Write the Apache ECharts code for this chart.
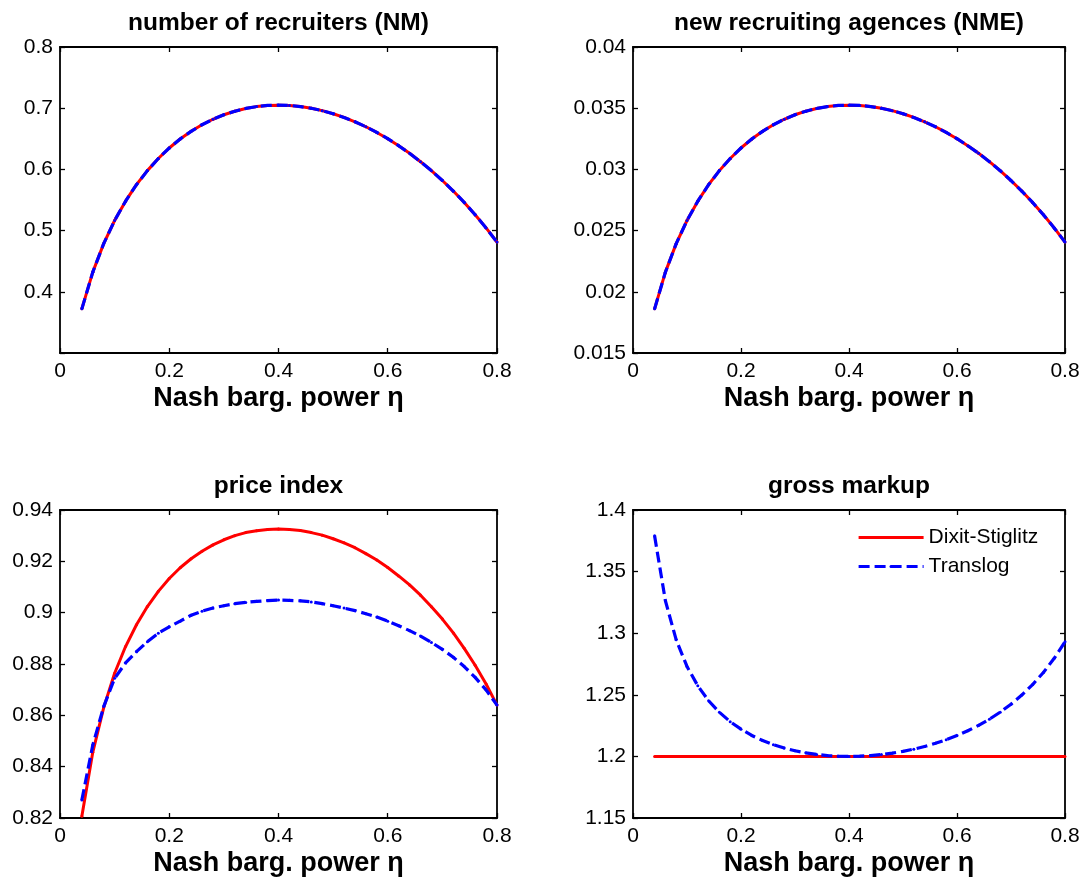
<!DOCTYPE html>
<html>
<head>
<meta charset="utf-8">
<script src="https://cdn.jsdelivr.net/npm/echarts@6/dist/echarts.min.js"></script>
<style>
html,body{margin:0;padding:0;background:#fff;}
#chart{width:1090px;height:882px;}
</style>
</head>
<body>
<div id="chart"></div>
<script>
// Nash bargaining power eta (x values)
const eta = [0.04,0.06,0.08,0.10,0.12,0.14,0.16,0.18,0.20,0.22,0.24,0.26,0.28,0.30,0.32,0.34,0.36,0.38,0.40,
             0.42,0.44,0.46,0.48,0.50,0.52,0.54,0.56,0.58,0.60,0.62,0.64,0.66,0.68,0.70,0.72,0.74,0.76,0.78,0.80];

// number of recruiters (NM) – both models coincide
const nmDS = [0.3721,0.4321,0.4787,0.5165,0.5481,0.5750,0.5980,0.6178,0.6350,0.6497,0.6622,0.6730,0.6819,0.6893,0.6951,0.6996,0.7026,0.7045,0.7050,
              0.7045,0.7027,0.6999,0.6960,0.6910,0.6849,0.6778,0.6697,0.6604,0.6502,0.6387,0.6263,0.6126,0.5979,0.5818,0.5646,0.5460,0.5259,0.5044,0.4812];
const nmTL = nmDS.slice();

// new recruiting agences (NME)
const nmeDS = [0.018605,0.021605,0.023935,0.025825,0.027405,0.02875,0.0299,0.03089,0.03175,0.032485,0.03311,0.03365,0.034095,0.034465,0.034755,0.03498,0.03513,0.035225,0.03525,
               0.035225,0.035135,0.034995,0.0348,0.03455,0.034245,0.03389,0.033485,0.03302,0.03251,0.031935,0.031315,0.03063,0.029895,0.02909,0.02823,0.0273,0.026295,0.02522,0.02406];
const nmeTL = nmeDS.slice();

// price index
const piDS = [0.8207,0.8456,0.8630,0.8764,0.8868,0.8953,0.9024,0.9083,0.9133,0.9175,0.9210,0.9239,0.9264,0.9284,0.9300,0.9312,0.9319,0.9324,0.9326,
              0.9324,0.9320,0.9312,0.9302,0.9288,0.9272,0.9253,0.9230,0.9205,0.9176,0.9143,0.9108,0.9068,0.9023,0.8975,0.8921,0.8861,0.8795,0.8722,0.8640];
const piTL = [0.8270,0.8484,0.8634,0.8744,0.8804,0.8848,0.8887,0.8920,0.8945,0.8967,0.8990,0.9006,0.9018,0.9027,0.9035,0.9040,0.9044,0.9047,0.9049,
              0.9048,0.9046,0.9042,0.9035,0.9027,0.9018,0.9008,0.8996,0.8983,0.8967,0.8949,0.8930,0.8909,0.8884,0.8857,0.8826,0.8790,0.8748,0.8699,0.8640];

// gross markup
const muDS = [1.2,1.2,1.2,1.2,1.2,1.2,1.2,1.2,1.2,1.2,1.2,1.2,1.2,1.2,1.2,1.2,1.2,1.2,1.2,
              1.2,1.2,1.2,1.2,1.2,1.2,1.2,1.2,1.2,1.2,1.2,1.2,1.2,1.2,1.2,1.2,1.2,1.2,1.2,1.2];
const muTL = [1.3790,1.3263,1.2946,1.2730,1.2573,1.2452,1.2358,1.2282,1.2221,1.2170,1.2129,1.2095,1.2068,1.2046,1.2029,1.2016,1.2007,1.2002,1.2000,
              1.2002,1.2007,1.2015,1.2026,1.2041,1.2059,1.2080,1.2106,1.2135,1.2169,1.2208,1.2252,1.2302,1.2359,1.2424,1.2498,1.2583,1.2681,1.2796,1.2930];

const titles = ['number of recruiters (NM)','new recruiting agences (NME)','price index','gross markup'];
const xLabel = 'Nash barg. power \u03b7';
const seriesNames = ['Dixit-Stiglitz','Translog'];
const xTicks = {min:0, max:0.8, interval:0.2};
const yTicks = [
  {min:0.3, max:0.8, interval:0.1, hideBelow:0.35},
  {min:0.015, max:0.04, interval:0.005},
  {min:0.82, max:0.94, interval:0.02},
  {min:1.15, max:1.4, interval:0.05}
];
const panels = [[nmDS,nmTL],[nmeDS,nmeTL],[piDS,piTL],[muDS,muTL]];

const FONT = '"Liberation Sans", Arial, Helvetica, sans-serif';
const grids = [
  {left:60, top:47, width:437, height:306},
  {left:633, top:47, width:432, height:306},
  {left:60, top:510, width:437, height:308},
  {left:633, top:510, width:432, height:308}
];
const lineSt = {color:'#000', width:1.8};
const xAxes = [], yAxes = [], series = [];
grids.forEach((g, i) => {
  const base = {gridIndex:i, type:'value', splitLine:{show:false},
    axisLine:{show:true, onZero:false, lineStyle:lineSt},
    axisTick:{show:true, inside:true, length:5, lineStyle:{color:'#000', width:1.3}}};
  xAxes.push(Object.assign({}, base, xTicks, {position:'bottom',
    axisLabel:{color:'#000', fontSize:21, fontFamily:FONT, margin:8},
    name:xLabel, nameLocation:'middle', nameGap:32,
    nameTextStyle:{color:'#000', fontSize:27, fontWeight:'bold', fontFamily:FONT}}));
  xAxes.push(Object.assign({}, base, xTicks, {position:'top',
    axisLabel:{show:false},
    name:titles[i], nameLocation:'middle', nameGap:11,
    nameTextStyle:{color:'#000', fontSize:24.5, fontWeight:'bold', fontFamily:FONT}}));
  const yt = yTicks[i];
  yAxes.push(Object.assign({}, base, {min:yt.min, max:yt.max, interval:yt.interval, position:'left',
    axisLabel:{color:'#000', fontSize:21, fontFamily:FONT, margin:7,
      formatter: v => (yt.hideBelow !== undefined && v < yt.hideBelow) ? '' : String(v)}}));
  yAxes.push(Object.assign({}, base, {min:yt.min, max:yt.max, interval:yt.interval, position:'right',
    axisLabel:{show:false}}));
  const [ds, tl] = panels[i];
  series.push({name:seriesNames[0], type:'line', xAxisIndex:2*i, yAxisIndex:2*i,
    data: eta.map((x,k)=>[x, ds[k]]), symbol:'circle', symbolSize:3, showSymbol:true,
    lineStyle:{color:'#ff0000', width:3}, itemStyle:{color:'#ff0000'}, z:2});
  series.push({name:seriesNames[1], type:'line', xAxisIndex:2*i, yAxisIndex:2*i,
    data: eta.map((x,k)=>[x, tl[k]]), symbol:'circle', symbolSize:3, showSymbol:true,
    lineStyle:{color:'#0000ff', width:3.2, type:[11,5]}, itemStyle:{color:'#0000ff'}, z:3});
});

const chart = echarts.init(document.getElementById('chart'), null, {renderer:'canvas'});
chart.setOption({
  animation:false,
  backgroundColor:'#fff',
  grid: grids,
  xAxis: xAxes,
  yAxis: yAxes,
  legend: {data:seriesNames, left:857, top:527, orient:'vertical', itemWidth:65, itemHeight:4, itemGap:8,
    lineStyle:{width:3.2},
    textStyle:{color:'#000', fontSize:21, fontFamily:FONT, lineHeight:21}, backgroundColor:'#fff', padding:0},
  series: series
});
</script>
</body>
</html>
